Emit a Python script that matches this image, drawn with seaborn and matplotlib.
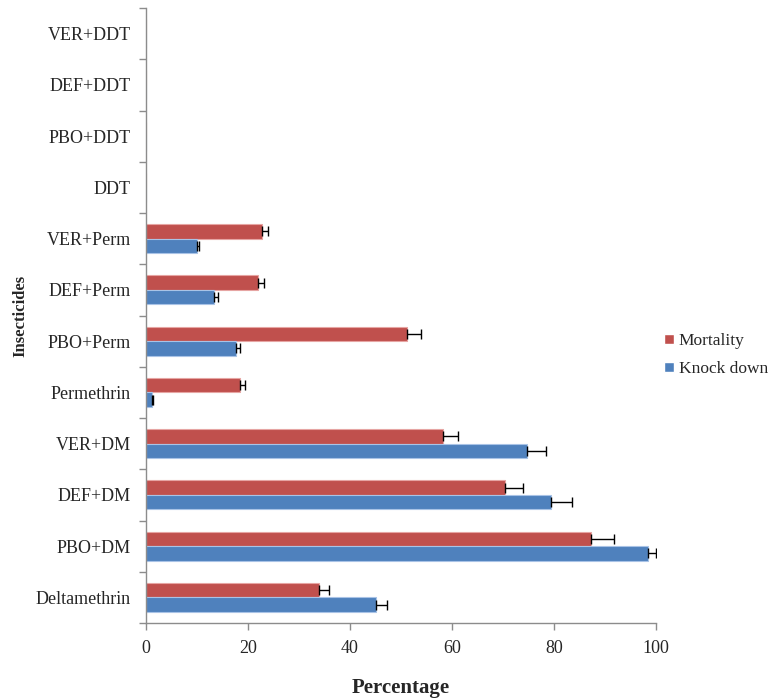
import numpy as np
import pandas as pd
import matplotlib
matplotlib.use('Agg')
import matplotlib.pyplot as plt
import seaborn as sns

# Categories listed top to bottom as they appear on the chart
insecticides = ['VER+DDT', 'DEF+DDT', 'PBO+DDT', 'DDT',
                'VER+Perm', 'DEF+Perm', 'PBO+Perm', 'Permethrin',
                'VER+DM', 'DEF+DM', 'PBO+DM', 'Deltamethrin']

mortality = [0, 0, 0, 0, 22.8, 22.0, 51.2, 18.4, 58.2, 70.4, 87.2, 34.0]
mortality_err = [0, 0, 0, 0, 1.2, 1.1, 2.7, 1.0, 3.0, 3.6, 4.5, 1.8]

knockdown = [0, 0, 0, 0, 10.0, 13.4, 17.6, 1.1, 74.7, 79.4, 98.4, 45.0]
knockdown_err = [0, 0, 0, 0, 0.4, 0.7, 0.8, 0.2, 3.7, 4.1, 1.6, 2.2]

series = ['Mortality', 'Knock down']
colors = {'Mortality': '#C0504D', 'Knock down': '#4F81BD'}
edges = {'Mortality': '#E6A5A3', 'Knock down': '#A9C3E6'}

df = pd.DataFrame({
    'Insecticides': insecticides * 2,
    'Percentage': mortality + knockdown,
    'Series': ['Mortality'] * len(insecticides) + ['Knock down'] * len(insecticides),
})
errs = {'Mortality': mortality_err, 'Knock down': knockdown_err}

sns.set_style('white')
plt.rcParams['font.family'] = ['Liberation Serif', 'DejaVu Serif']

fig = plt.figure(figsize=(7.69, 6.99), dpi=100)
ax = fig.add_axes([146 / 769, 1 - 623 / 699, 510 / 769, 615 / 699])

sns.barplot(data=df, y='Insecticides', x='Percentage', hue='Series',
            order=insecticides, hue_order=series, palette=colors,
            orient='h', width=0.57, gap=0, errorbar=None, saturation=1,
            ax=ax)

# bar outlines and one-sided error bars
for cont, name in zip(ax.containers, series):
    ys, xs, xe = [], [], []
    for bar, e in zip(cont, errs[name]):
        bar.set_edgecolor(edges[name])
        bar.set_linewidth(0.8)
        if bar.get_width() > 0:
            ys.append(bar.get_y() + bar.get_height() / 2)
            xs.append(bar.get_width())
            xe.append(e)
    ax.errorbar(xs, ys, xerr=[np.zeros(len(xe)), xe], fmt='none',
                ecolor='black', elinewidth=1.0, capsize=3.5, capthick=1.0)

ax.set_xlim(0, 100)
ax.set_ylim(len(insecticides) - 0.5, -0.5)
ax.set_xticks(np.arange(0, 101, 20))

# category ticks at the boundaries
ax.set_yticks(np.arange(len(insecticides)))
ax.set_yticklabels(insecticides)
ax.set_yticks(np.arange(-0.5, len(insecticides), 1), minor=True)
ax.tick_params(axis='y', which='major', length=0, pad=11, labelsize=13)
ax.tick_params(axis='y', which='minor', length=5, color='#8c8c8c', width=1,
               direction='out', left=True)
ax.tick_params(axis='x', length=5, color='#8c8c8c', width=1, direction='out',
               bottom=True, labelsize=13, pad=7)

for s in ['top', 'right']:
    ax.spines[s].set_visible(False)
for s in ['left', 'bottom']:
    ax.spines[s].set_color('#8c8c8c')
    ax.spines[s].set_linewidth(1)

ax.set_xlabel('Percentage', fontsize=15, fontweight='bold')
ax.set_ylabel('Insecticides', fontsize=12, fontweight='bold')
ax.xaxis.set_label_coords(0.5, -0.089)
ax.yaxis.set_label_coords(-0.231, 0.5)

handles, labels = ax.get_legend_handles_labels()
ax.legend(handles, labels, loc='center left',
          bbox_to_anchor=(664 / 769, 1 - 355 / 699),
          bbox_transform=fig.transFigure, frameon=False, fontsize=12.5,
          handlelength=0.55, handleheight=0.55, handletextpad=0.3,
          labelspacing=0.7, borderpad=0, borderaxespad=0)

fig.savefig('out.png', dpi=100)
